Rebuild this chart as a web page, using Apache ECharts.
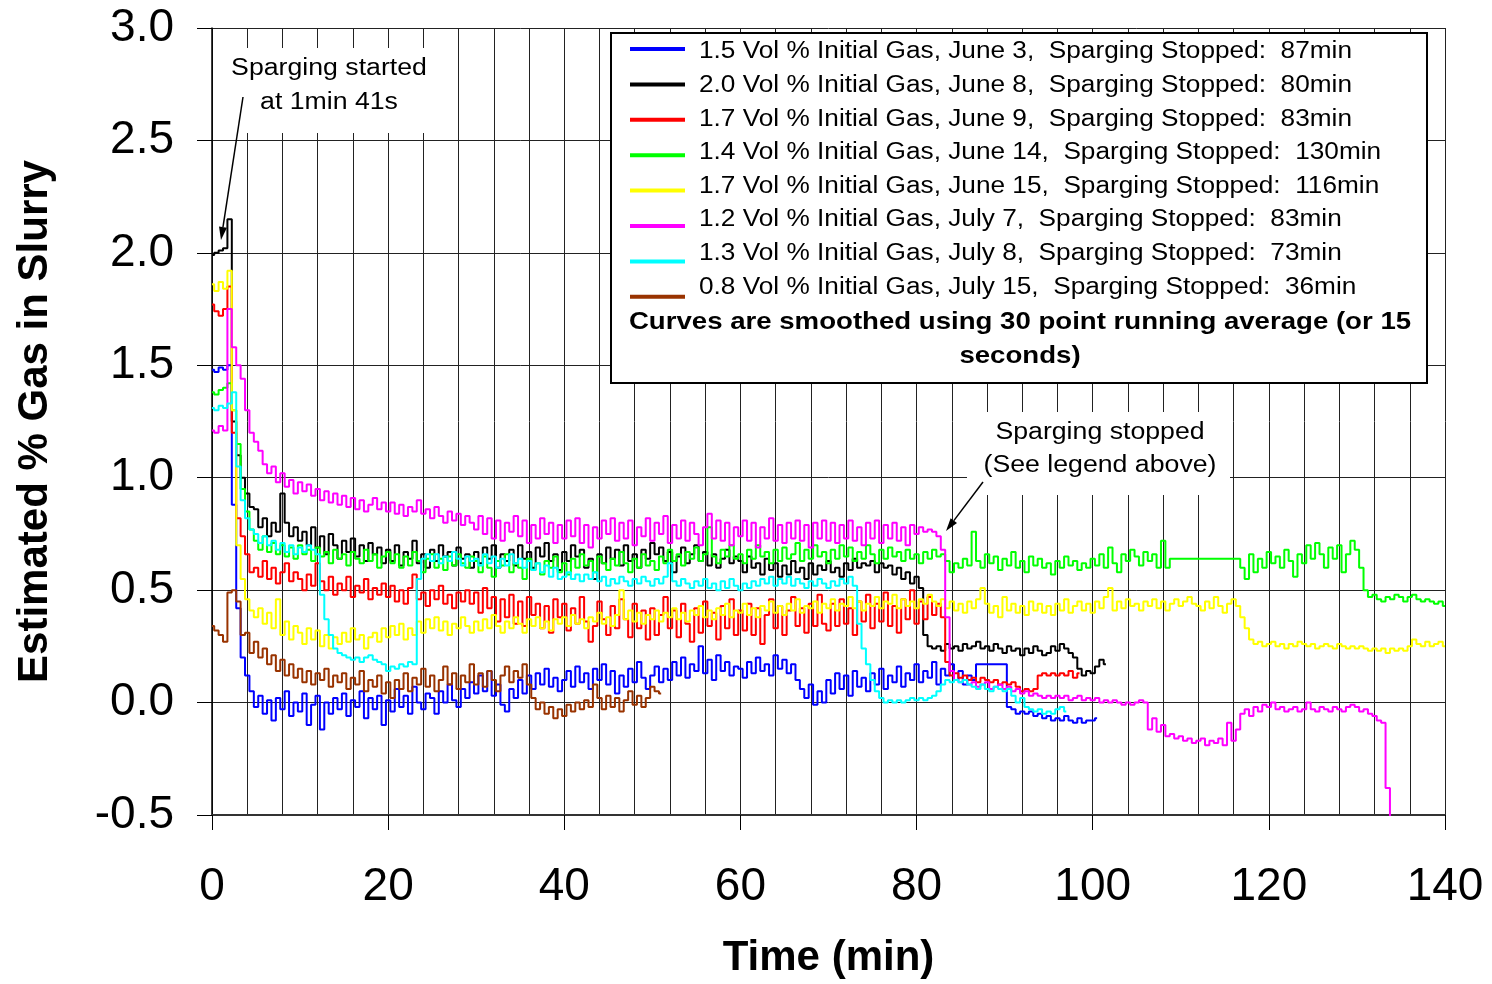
<!DOCTYPE html>
<html>
<head>
<meta charset="utf-8">
<title>Estimated % Gas in Slurry</title>
<script src="https://cdn.jsdelivr.net/npm/echarts@6/dist/echarts.min.js"></script>
<style>
  html, body { margin: 0; padding: 0; background: #fff; }
  #chart { width: 1492px; height: 984px; }
</style>
</head>
<body>
<div id="chart"></div>
<script>
// Smoothed records (30-point running average), one value every STEP_MIN minutes from t = 0.
const STEP_MIN = 0.5;

// 1.5 vol % initial gas, June 3
const june3 = [
  1.48,1.47,1.49,1.48,1.50, 0.88,0.42,0.2,0.12,0.05, -0.02,0.03,-0.05,0.01,-0.08, 0.02,-0.03,0.05,-0.06,0.0,
  -0.04,0.04,-0.1,-0.01,0.03,-0.12,0.0,-0.05,0.02,-0.03, 0.04,-0.06,0.01,-0.02,0.05,-0.07,0.02,-0.03,0.03,-0.1,
  0.01,-0.04,0.06,-0.02,0.03,-0.05,0.07,0.0,-0.03,0.04, 0.02,-0.05,0.05,0.0,0.08,0.01,-0.02,0.06,0.02,0.09,
  0.04,0.12,0.05,0.14,0.03,0.08,-0.01,-0.04,0.06,0.02, 0.1,0.04,0.12,0.06,0.13,0.08,0.15,0.07,0.11,0.05,
  0.1,0.14,0.07,0.16,0.09,0.13,0.06,0.15,0.1,0.17, 0.08,0.14,0.04,0.12,0.07,0.15,0.09,0.18,0.11,0.06,
  0.12,0.16,0.09,0.15,0.1,0.18,0.12,0.2,0.11,0.17, 0.14,0.25,0.13,0.19,0.1,0.21,0.14,0.18,0.12,0.16,
  0.15,0.11,0.18,0.13,0.2,0.14,0.17,0.12,0.21,0.15, 0.19,0.13,0.17,0.1,0.06,0.02,0.08,-0.01,0.05,0.0,
  0.1,0.04,0.13,0.06,0.12,0.03,0.14,0.07,0.11,0.05, 0.13,0.08,0.15,0.06,0.12,0.09,0.16,0.07,0.13,0.1,
  0.17,0.09,0.14,0.11,0.18,0.08,0.15,0.12,0.17,0.1, 0.14,0.08,0.12,0.1,0.17,0.17,0.17,0.17,0.17,0.17,
  0.17,-0.02,-0.03,-0.05,-0.04,-0.05,-0.04,-0.06,-0.05,-0.07, -0.06,-0.08,-0.07,-0.08,-0.06,-0.08,-0.09,-0.07,-0.09,-0.08,
  -0.08,-0.07
];

// 2.0 vol % initial gas, June 8
const june8 = [
  1.99,2.0,2.01,2.02,2.15, 1.25,1.1,1.0,0.93,0.87, 0.86,0.78,0.82,0.74,0.8, 0.76,0.93,0.8,0.74,0.78,
  0.72,0.76,0.7,0.78,0.69,0.74,0.66,0.75,0.7,0.64, 0.72,0.67,0.73,0.65,0.7,0.63,0.71,0.66,0.69,0.62,
  0.68,0.63,0.7,0.61,0.67,0.64,0.72,0.62,0.66,0.6, 0.68,0.63,0.7,0.65,0.67,0.61,0.69,0.64,0.66,0.6,
  0.67,0.62,0.69,0.64,0.7,0.6,0.66,0.63,0.68,0.61, 0.7,0.64,0.67,0.6,0.69,0.65,0.71,0.63,0.66,0.59,
  0.67,0.63,0.7,0.65,0.68,0.6,0.64,0.55,0.66,0.62, 0.69,0.64,0.68,0.61,0.7,0.63,0.66,0.6,0.68,0.64,
  0.71,0.66,0.69,0.63,0.67,0.58,0.65,0.69,0.62,0.66, 0.7,0.63,0.67,0.61,0.66,0.6,0.64,0.68,0.62,0.65,
  0.63,0.58,0.65,0.6,0.62,0.57,0.64,0.59,0.62,0.56, 0.61,0.57,0.63,0.58,0.6,0.55,0.62,0.57,0.61,0.59,
  0.63,0.58,0.6,0.56,0.62,0.59,0.64,0.6,0.62,0.61, 0.63,0.58,0.62,0.6,0.61,0.57,0.6,0.55,0.58,0.53,
  0.56,0.51,0.3,0.25,0.24,0.25,0.23,0.26,0.24,0.25, 0.23,0.26,0.24,0.25,0.27,0.24,0.25,0.23,0.26,0.24,
  0.22,0.25,0.23,0.24,0.21,0.24,0.22,0.25,0.23,0.21, 0.22,0.25,0.23,0.26,0.24,0.22,0.2,0.15,0.12,0.14,
  0.13,0.16,0.19,0.17
];

// 1.7 vol % initial gas, June 9
const june9 = [
  1.77,1.74,1.72,1.75,1.85, 1.2,0.82,0.74,0.66,0.58, 0.6,0.56,0.63,0.55,0.6, 0.53,0.58,0.62,0.54,0.58,
  0.55,0.5,0.57,0.52,0.62,0.54,0.5,0.56,0.48,0.53, 0.5,0.56,0.47,0.52,0.49,0.55,0.46,0.51,0.48,0.53,
  0.47,0.52,0.45,0.5,0.44,0.51,0.57,0.46,0.49,0.43, 0.5,0.46,0.52,0.44,0.48,0.42,0.49,0.45,0.5,0.44,
  0.49,0.4,0.51,0.42,0.47,0.36,0.46,0.38,0.48,0.35, 0.45,0.34,0.47,0.39,0.44,0.33,0.43,0.31,0.46,0.38,
  0.44,0.32,0.42,0.35,0.47,0.36,0.27,0.34,0.45,0.37, 0.3,0.43,0.33,0.46,0.37,0.29,0.44,0.33,0.41,0.28,
  0.42,0.3,0.39,0.47,0.33,0.41,0.29,0.44,0.35,0.27, 0.42,0.31,0.45,0.34,0.4,0.28,0.43,0.33,0.46,0.3,
  0.41,0.32,0.44,0.3,0.42,0.26,0.39,0.46,0.33,0.43, 0.3,0.41,0.47,0.34,0.42,0.31,0.44,0.34,0.48,0.35,
  0.32,0.44,0.34,0.46,0.35,0.42,0.3,0.45,0.36,0.48, 0.33,0.44,0.36,0.49,0.34,0.43,0.31,0.46,0.37,0.5,
  0.35,0.45,0.37,0.47,0.39,0.44,0.38,0.18,0.12,0.13, 0.11,0.12,0.1,0.11,0.09,0.11,0.1,0.09,0.1,0.08,
  0.09,0.08,0.09,0.07,0.05,0.06,0.05,0.06,0.12,0.13, 0.12,0.13,0.12,0.13,0.12,0.14,0.11,0.13
];

// 1.4 vol % initial gas, June 14
const june14 = [
  1.38,1.37,1.39,1.4,1.42, 1.3,1.15,0.95,0.85,0.77, 0.72,0.68,0.74,0.67,0.71, 0.66,0.7,0.65,0.69,0.64,
  0.7,0.66,0.68,0.63,0.69,0.65,0.67,0.62,0.68,0.64, 0.66,0.61,0.67,0.64,0.62,0.68,0.63,0.66,0.6,0.65,
  0.67,0.62,0.66,0.6,0.65,0.61,0.67,0.63,0.58,0.64, 0.66,0.6,0.64,0.59,0.65,0.61,0.66,0.62,0.6,0.65,
  0.63,0.58,0.65,0.6,0.56,0.63,0.61,0.66,0.58,0.62, 0.6,0.55,0.64,0.59,0.62,0.57,0.63,0.6,0.65,0.58,
  0.62,0.57,0.64,0.6,0.66,0.61,0.63,0.58,0.65,0.62, 0.59,0.64,0.61,0.67,0.62,0.58,0.64,0.6,0.66,0.61,
  0.63,0.59,0.65,0.62,0.68,0.63,0.66,0.61,0.67,0.64, 0.69,0.63,0.66,0.78,0.65,0.62,0.68,0.65,0.7,0.64,
  0.66,0.62,0.68,0.64,0.7,0.65,0.67,0.62,0.68,0.63, 0.69,0.64,0.66,0.71,0.63,0.68,0.64,0.7,0.65,0.67,
  0.62,0.68,0.64,0.7,0.65,0.69,0.63,0.67,0.64,0.7, 0.66,0.62,0.68,0.64,0.69,0.65,0.67,0.63,0.68,0.64,
  0.66,0.62,0.67,0.64,0.68,0.65,0.66,0.63,0.58,0.62, 0.6,0.64,0.61,0.76,0.63,0.6,0.66,0.62,0.65,0.59,
  0.64,0.61,0.67,0.6,0.63,0.58,0.65,0.61,0.64,0.6, 0.62,0.57,0.63,0.6,0.65,0.61,0.63,0.59,0.62,0.6,
  0.64,0.61,0.66,0.6,0.69,0.62,0.58,0.66,0.63,0.68, 0.65,0.61,0.67,0.63,0.66,0.6,0.72,0.6,0.64,0.64,
  0.64,0.64,0.64,0.64,0.64,0.64,0.64,0.64,0.64,0.64, 0.64,0.64,0.64,0.64,0.6,0.55,0.66,0.58,0.64,0.6,
  0.67,0.62,0.65,0.6,0.68,0.63,0.56,0.66,0.62,0.7, 0.64,0.71,0.66,0.6,0.69,0.64,0.7,0.58,0.66,0.72,
  0.68,0.6,0.5,0.47,0.48,0.46,0.45,0.47,0.46,0.48, 0.47,0.45,0.47,0.48,0.46,0.45,0.46,0.45,0.44,0.45,
  0.43
];

// 1.7 vol % initial gas, June 15
const june15 = [
  1.86,1.83,1.87,1.84,1.92, 1.3,0.7,0.55,0.46,0.41, 0.38,0.42,0.35,0.4,0.33, 0.46,0.3,0.36,0.28,0.34,
  0.31,0.26,0.33,0.28,0.32,0.25,0.3,0.24,0.29,0.26, 0.31,0.27,0.33,0.28,0.3,0.24,0.29,0.31,0.27,0.33,
  0.29,0.34,0.3,0.35,0.28,0.33,0.3,0.36,0.31,0.37, 0.33,0.38,0.32,0.36,0.3,0.35,0.33,0.38,0.34,0.31,
  0.36,0.32,0.37,0.33,0.39,0.34,0.31,0.36,0.33,0.38, 0.35,0.31,0.37,0.34,0.38,0.33,0.36,0.32,0.37,0.35,
  0.38,0.34,0.39,0.35,0.37,0.33,0.38,0.36,0.4,0.35, 0.38,0.34,0.39,0.5,0.37,0.41,0.36,0.4,0.35,0.39,
  0.37,0.41,0.36,0.4,0.38,0.42,0.37,0.4,0.36,0.41, 0.39,0.43,0.38,0.41,0.37,0.42,0.39,0.44,0.38,0.41,
  0.4,0.44,0.39,0.42,0.38,0.43,0.41,0.45,0.4,0.43, 0.39,0.44,0.41,0.46,0.4,0.43,0.42,0.45,0.4,0.44,
  0.42,0.46,0.41,0.44,0.43,0.47,0.42,0.45,0.41,0.44, 0.43,0.47,0.42,0.45,0.44,0.48,0.42,0.46,0.43,0.45,
  0.42,0.46,0.44,0.48,0.45,0.43,0.46,0.42,0.45,0.41, 0.44,0.4,0.45,0.42,0.46,0.51,0.44,0.4,0.43,0.38,
  0.47,0.41,0.44,0.4,0.43,0.39,0.45,0.41,0.44,0.4, 0.43,0.39,0.44,0.41,0.46,0.4,0.43,0.45,0.41,0.44,
  0.4,0.45,0.42,0.47,0.51,0.41,0.45,0.42,0.46,0.43, 0.44,0.41,0.45,0.43,0.46,0.42,0.45,0.41,0.44,0.46,
  0.43,0.45,0.47,0.44,0.43,0.41,0.45,0.42,0.47,0.43, 0.4,0.44,0.46,0.43,0.38,0.33,0.28,0.26,0.27,0.25,
  0.26,0.27,0.25,0.26,0.24,0.26,0.25,0.27,0.26,0.25, 0.26,0.24,0.25,0.26,0.25,0.24,0.26,0.25,0.24,0.25,
  0.24,0.25,0.24,0.23,0.24,0.23,0.24,0.22,0.24,0.23, 0.24,0.23,0.25,0.28,0.26,0.25,0.27,0.25,0.26,0.27,
  0.25
];

// 1.2 vol % initial gas, July 7
const july7 = [
  1.21,1.2,1.23,1.21,1.75, 1.58,1.5,1.44,1.3,1.2, 1.16,1.12,1.06,1.02,1.05, 0.98,1.02,0.96,0.99,0.93,
  0.98,0.94,0.97,0.92,0.95,0.9,0.94,0.89,0.93,0.88, 0.92,0.87,0.91,0.86,0.9,0.85,0.88,0.91,0.86,0.89,
  0.85,0.89,0.84,0.88,0.83,0.87,0.85,0.9,0.84,0.86, 0.82,0.87,0.83,0.8,0.85,0.81,0.84,0.79,0.83,0.8,
  0.77,0.83,0.75,0.82,0.73,0.81,0.72,0.8,0.76,0.83, 0.74,0.81,0.71,0.79,0.73,0.82,0.75,0.8,0.71,0.79,
  0.73,0.81,0.74,0.82,0.71,0.79,0.69,0.78,0.73,0.81, 0.75,0.82,0.72,0.8,0.73,0.81,0.7,0.78,0.74,0.82,
  0.72,0.8,0.75,0.83,0.71,0.79,0.73,0.81,0.72,0.8, 0.75,0.7,0.78,0.84,0.73,0.81,0.72,0.8,0.7,0.78,
  0.74,0.81,0.72,0.8,0.69,0.78,0.73,0.82,0.72,0.79, 0.71,0.8,0.73,0.81,0.72,0.79,0.69,0.8,0.73,0.81,
  0.72,0.8,0.71,0.79,0.73,0.81,0.72,0.78,0.7,0.8, 0.73,0.81,0.71,0.79,0.73,0.8,0.72,0.78,0.7,0.79,
  0.75,0.78,0.76,0.77,0.76,0.74,0.68,0.38,0.14,0.1, 0.09,0.1,0.08,0.09,0.07,0.08,0.09,0.06,0.07,0.08,
  0.06,0.07,0.05,0.06,0.04,0.05,0.03,0.04,0.03,0.02, 0.03,0.02,0.03,0.02,0.03,0.01,0.02,0.03,0.01,0.02,
  0.01,0.02,0.0,0.01,0.0,0.01,0.0,-0.01,0.0,-0.01, 0.0,0.01,0.0,-0.12,-0.07,-0.13,-0.1,-0.15,-0.14,-0.16,
  -0.15,-0.17,-0.16,-0.18,-0.17,-0.16,-0.19,-0.17,-0.18,-0.16, -0.19,-0.09,-0.17,-0.12,-0.05,-0.03,-0.06,-0.02,-0.04,-0.01,
  -0.02,0.0,-0.03,-0.02,-0.04,-0.03,-0.02,-0.04,-0.03,0.0, -0.03,-0.04,-0.02,-0.03,-0.04,-0.02,-0.03,-0.04,-0.02,-0.01,
  -0.02,-0.04,-0.03,-0.05,-0.06,-0.08,-0.09,-0.38,-0.62
];

// 1.3 vol % initial gas, July 8
const july8 = [
  1.31,1.3,1.32,1.31,1.33, 1.38,1.05,0.9,0.82,0.77, 0.75,0.71,0.74,0.7,0.72, 0.68,0.71,0.67,0.7,0.66,
  0.69,0.67,0.7,0.68,0.66,0.48,0.37,0.3,0.24,0.22, 0.21,0.2,0.19,0.2,0.18,0.2,0.21,0.19,0.18,0.17,
  0.14,0.16,0.15,0.17,0.16,0.18,0.17,0.55,0.64,0.66, 0.63,0.66,0.62,0.65,0.63,0.67,0.64,0.61,0.65,0.63,
  0.64,0.61,0.66,0.62,0.65,0.6,0.64,0.61,0.66,0.62, 0.64,0.6,0.63,0.59,0.62,0.58,0.61,0.56,0.6,0.55,
  0.56,0.58,0.55,0.57,0.54,0.57,0.55,0.58,0.54,0.56, 0.52,0.55,0.53,0.56,0.54,0.52,0.55,0.53,0.56,0.54,
  0.52,0.55,0.53,0.56,0.62,0.54,0.52,0.55,0.53,0.51, 0.54,0.52,0.55,0.51,0.53,0.5,0.54,0.51,0.55,0.52,
  0.5,0.53,0.51,0.54,0.52,0.55,0.53,0.56,0.52,0.55, 0.53,0.56,0.52,0.55,0.53,0.51,0.54,0.52,0.55,0.53,
  0.51,0.54,0.52,0.55,0.53,0.56,0.52,0.35,0.24,0.17, 0.1,0.05,0.02,0.0,0.01,0.0,0.01,0.0,0.01,0.02,
  0.01,0.02,0.01,0.02,0.03,0.05,0.08,0.1,0.09,0.1, 0.09,0.1,0.08,0.07,0.06,0.08,0.06,0.05,0.07,0.06,
  0.05,0.06,0.03,0.0,0.02,-0.02,-0.03,-0.04,-0.03,-0.05, -0.04,-0.05,-0.03,-0.02,-0.04
];

// 0.8 vol % initial gas, July 15
const july15 = [
  0.34,0.32,0.3,0.27,0.49, 0.5,0.45,0.3,0.31,0.22, 0.27,0.2,0.24,0.17,0.21, 0.14,0.19,0.12,0.17,0.11,
  0.15,0.09,0.14,0.08,0.13,0.1,0.15,0.07,0.12,0.09, 0.13,0.06,0.11,0.08,0.14,0.05,0.1,0.07,0.12,0.04,
  0.09,0.02,0.1,0.06,0.13,0.05,0.11,0.08,0.15,0.07, 0.12,0.05,0.1,0.16,0.08,0.13,0.06,0.12,0.09,0.17,
  0.08,0.13,0.07,0.14,0.1,0.05,0.12,0.16,0.09,0.14, 0.11,0.17,0.08,0.02,-0.03,0.0,-0.05,-0.02,-0.07,-0.03,
  -0.06,-0.01,-0.04,0.0,-0.03,0.01,-0.02,0.08,0.02,-0.03, 0.03,-0.02,0.02,-0.04,0.01,0.05,-0.01,0.03,-0.02,0.02,
  0.07,0.05,0.04
];

const seriesNames = [
  '1.5 Vol % Initial Gas, June 3,  Sparging Stopped:  87min',
  '2.0 Vol % Initial Gas, June 8,  Sparging Stopped:  80min',
  '1.7 Vol % Initial Gas, June 9,  Sparging Stopped:  83min',
  '1.4 Vol % Initial Gas, June 14,  Sparging Stopped:  130min',
  '1.7 Vol % Initial Gas, June 15,  Sparging Stopped:  116min',
  '1.2 Vol % Initial Gas, July 7,  Sparging Stopped:  83min',
  '1.3 Vol % Initial Gas, July 8,  Sparging Stopped:  73min',
  '0.8 Vol % Initial Gas, July 15,  Sparging Stopped:  36min'
];
const seriesValues = [june3, june8, june9, june14, june15, july7, july8, july15];
const seriesColors = ['#0000FF', '#000000', '#FF0000', '#00FF00', '#FFFF00', '#FF00FF', '#00FFFF', '#993300'];

const noteLines = ['Curves are smoothed using 30 point running average (or 15', 'seconds)'];
const startNote = ['Sparging started', 'at 1min 41s'];
const stopNote = ['Sparging stopped', '(See legend above)'];

const X_MIN = 0, X_MAX = 140, X_STEP = 20;
const Y_MIN = -0.5, Y_MAX = 3.0, Y_STEP = 0.5;

const FONT = '"Liberation Sans", Arial, Helvetica, sans-serif';

function toPairs(values) {
  return values.map((v, i) => [i * STEP_MIN, v]);
}

// thin line with a solid narrow arrowhead at (x2, y2)
function arrow(x1, y1, x2, y2) {
  const ang = Math.atan2(y2 - y1, x2 - x1);
  const len = 13, half = 4;
  const bx = x2 - len * Math.cos(ang), by = y2 - len * Math.sin(ang);
  const px = -Math.sin(ang) * half, py = Math.cos(ang) * half;
  return [
    { type: 'line', z: 100, shape: { x1: x1, y1: y1, x2: bx, y2: by },
      style: { stroke: '#000', lineWidth: 1.5 } },
    { type: 'polygon', z: 100,
      shape: { points: [[x2, y2], [bx + px, by + py], [bx - px, by - py]] },
      style: { fill: '#000' } }
  ];
}

// text drawn slightly wide, as in the original worksheet styling
function stretchedText(x, y, text, size, weight, align, sx) {
  return {
    type: 'text', z: 101, x: x, y: y, scaleX: sx, scaleY: 1,
    style: {
      text: text, fill: '#000',
      font: weight + ' ' + size + 'px ' + FONT,
      textAlign: align, textVerticalAlign: 'middle'
    }
  };
}

const graphics = [];

// legend panel
graphics.push({
  type: 'rect', z: 99,
  shape: { x: 611, y: 33, width: 816, height: 350 },
  style: { fill: '#fff', stroke: '#000', lineWidth: 2 }
});
seriesNames.forEach((name, i) => {
  const ly = 49 + i * 35.4;
  graphics.push({
    type: 'line', z: 100,
    shape: { x1: 630, y1: ly, x2: 685, y2: ly },
    style: { stroke: seriesColors[i], lineWidth: 4 }
  });
  graphics.push(stretchedText(699, 52 + i * 33.6, name, 23, 'normal', 'left', 1.14));
});
graphics.push(stretchedText(1020, 322, noteLines[0], 24, 'bold', 'center', 1.15));
graphics.push(stretchedText(1020, 356, noteLines[1], 24, 'bold', 'center', 1.15));

// start annotation
graphics.push({ type: 'rect', z: 99, shape: { x: 223, y: 48, width: 212, height: 85 },
  style: { fill: '#fff' } });
graphics.push(stretchedText(329, 69, startNote[0], 23, 'normal', 'center', 1.16));
graphics.push(stretchedText(329, 103, startNote[1], 23, 'normal', 'center', 1.16));
arrow(243, 97, 221, 240).forEach(g => graphics.push(g));

// stop annotation
graphics.push({ type: 'rect', z: 99, shape: { x: 967, y: 412, width: 263, height: 83 },
  style: { fill: '#fff' } });
graphics.push(stretchedText(1100, 433, stopNote[0], 23, 'normal', 'center', 1.16));
graphics.push(stretchedText(1100, 466, stopNote[1], 23, 'normal', 'center', 1.16));
arrow(983, 482, 946, 531).forEach(g => graphics.push(g));

const chart = echarts.init(document.getElementById('chart'), null, { renderer: 'canvas' });

chart.setOption({
  animation: false,
  backgroundColor: '#fff',
  grid: { left: 212, right: 47, top: 28, bottom: 169, containLabel: false },
  xAxis: {
    type: 'value', min: X_MIN, max: X_MAX, interval: X_STEP,
    name: 'Time (min)', nameLocation: 'middle', nameGap: 122,
    nameTextStyle: { fontFamily: FONT, fontSize: 42, fontWeight: 'bold', color: '#000' },
    axisLine: { show: true, onZero: false, lineStyle: { color: '#333', width: 2 } },
    axisTick: { show: true, inside: false, length: 15, lineStyle: { color: '#000', width: 1 } },
    axisLabel: { fontFamily: FONT, fontSize: 46, color: '#000', margin: 49 },
    splitLine: { show: true, lineStyle: { color: '#222', width: 1 } },
    minorTick: { show: false, splitNumber: 5 },
    minorSplitLine: { show: true, lineStyle: { color: '#222', width: 1 } }
  },
  yAxis: {
    type: 'value', min: Y_MIN, max: Y_MAX, interval: Y_STEP,
    name: 'Estimated % Gas in Slurry', nameLocation: 'middle', nameGap: 156, nameRotate: 90,
    nameTextStyle: { fontFamily: FONT, fontSize: 42, fontWeight: 'bold', color: '#000' },
    axisLine: { show: true, onZero: false, lineStyle: { color: '#000', width: 1.5 } },
    axisTick: { show: true, inside: false, length: 15, lineStyle: { color: '#000', width: 1 } },
    axisLabel: { fontFamily: FONT, fontSize: 46, color: '#000', margin: 38,
      formatter: v => v.toFixed(1) },
    splitLine: { show: true, lineStyle: { color: '#222', width: 1 } }
  },
  series: seriesValues.map((vals, i) => ({
    name: seriesNames[i],
    type: 'line',
    data: toPairs(vals),
    step: 'middle',
    showSymbol: false,
    symbol: 'none',
    clip: true,
    lineStyle: { color: seriesColors[i], width: 2 },
    itemStyle: { color: seriesColors[i] },
    emphasis: { disabled: true }
  })),
  graphic: { elements: graphics }
});
</script>
</body>
</html>
